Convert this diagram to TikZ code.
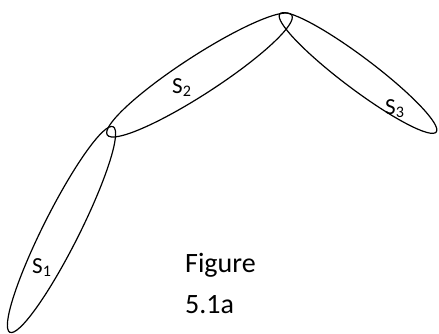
\documentclass[tikz,border=0pt]{standalone}
\usepackage{fontspec}
\setmainfont{Carlito}
\usepackage{tikz}

\begin{document}
\begin{tikzpicture}[
		x=1pt, y=1pt,
		set/.style={line width=1.2pt},
		lbl/.style={font=\fontsize{23pt}{26pt}\selectfont, inner sep=0pt, anchor=base west},
		caption/.style={font=\fontsize{28pt}{32pt}\selectfont, inner sep=0pt, anchor=base west}]
		\useasboundingbox (0,0) rectangle (439,333);

		% the three sets
		\draw[set, rotate around={63.3:(61.5,103.5)}] (61.5,103.5) ellipse (115 and 18);
		\draw[set, rotate around={33:(199.5,258)}] (199.5,258) ellipse (110 and 19);
		\draw[set, rotate around={-37:(358,260)}] (358,260) ellipse (98 and 16);

		\node[lbl] (s1) at (32,60) {S\textsubscript{1}};
		\node[lbl] (s2) at (172,240) {S\textsubscript{2}};
		\node[lbl] (s3) at (385,219) {S\textsubscript{3}};

		\node[caption] (fig) at (185,61) {Figure};
		\node[caption] (num) at (185,20) {5.1a};
	\end{tikzpicture}
\end{document}
